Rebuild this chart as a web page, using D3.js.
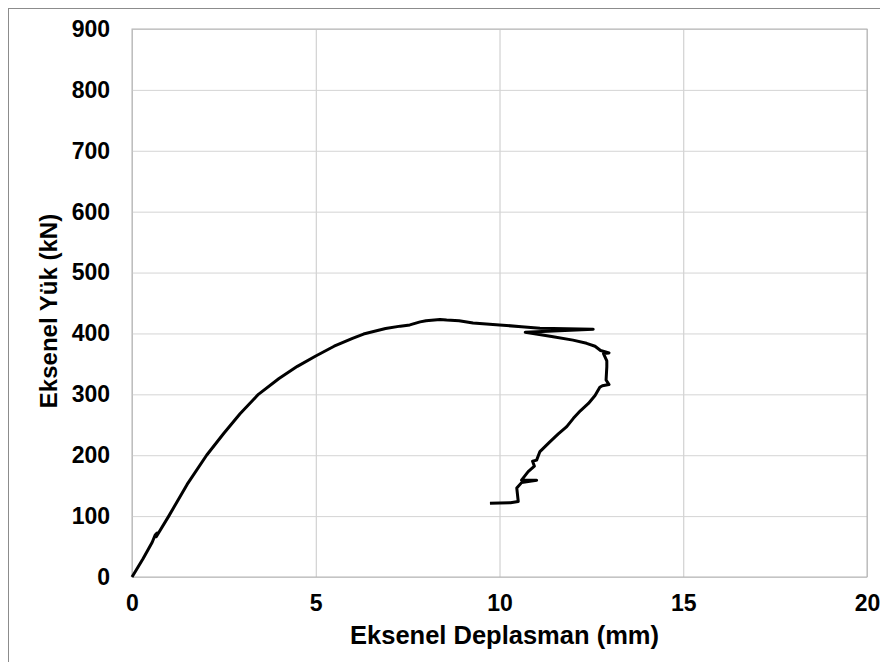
<!DOCTYPE html>
<html lang="tr">
	<head>
		<meta charset="utf-8">
		<title>Eksenel Yük - Deplasman</title>
		<script type="text/javascript" src="https://cdn.jsdelivr.net/npm/d3@7"></script>
		<style type="text/css">
			body { margin: 0; background: #fff; }
			svg { display: block; }
			text { font-family: "Liberation Sans", Arial, sans-serif; font-weight: bold; fill: #000; }
		</style>
	</head>
	<body>
		<script type="text/javascript">

			// displacement (mm) and load (kN)
			var deplasman = [0, 0.05, 0.3, 0.55, 0.63, 0.68, 0.66, 1.0, 1.5, 2.03, 2.5, 2.94, 3.44, 4.0, 4.5,
				5.0, 5.5, 6.0, 6.3, 6.9, 7.3, 7.56, 7.84, 8.0, 8.38, 8.56, 8.9, 9.28, 10.0, 10.6,
				11.1, 12.55, 10.7, 11.0, 11.46, 12.0, 12.37, 12.6, 12.75, 12.98, 12.83, 12.92,
				12.92, 12.9, 12.98, 12.8, 12.73, 12.6, 12.42, 12.2, 12.01, 11.83, 11.6, 11.37,
				11.1, 11.01, 10.9, 10.95, 10.78, 10.6, 11.01, 10.6, 10.47, 10.51, 10.3, 9.74];
			var yuk = [0, 5, 30, 57, 69, 72, 66, 100, 152, 200, 236, 268, 300, 326, 346,
				363, 379, 392, 399, 408, 412, 414, 419, 421, 423, 422, 421, 417, 414, 411,
				408.5, 406.8, 402, 399, 394.6, 389, 383.8, 379, 372, 368, 367, 355,
				345, 323.5, 316, 314, 311.5, 298, 285, 273, 260.6, 247, 235, 222,
				206, 192, 190, 182, 173, 159, 159, 155, 146, 124, 122, 121];

			var xTicks = [0, 5, 10, 15, 20];
			var yTicks = [0, 100, 200, 300, 400, 500, 600, 700, 800, 900];

			var W = 880, H = 662;
			var margin = {top: 29, right: 13, bottom: 85, left: 132};
			var w = W - margin.left - margin.right,
				h = H - margin.top - margin.bottom;

			var svg = d3.select("body").append("svg")
				.attr("width", W)
				.attr("height", H);

			// outer chart frame (right and bottom run off the picture)
			svg.append("rect")
				.attr("x", 8.5).attr("y", 8.5)
				.attr("width", W).attr("height", H)
				.attr("fill", "none")
				.attr("stroke", "#8c8c8c");

			var g = svg.append("g")
				.attr("transform", "translate(" + margin.left + "," + margin.top + ")");

			var xScale = d3.scaleLinear().domain([0, 20]).range([0, w]);
			var yScale = d3.scaleLinear().domain([0, 900]).range([h, 0]);

			// grid
			g.append("g")
				.attr("transform", "translate(0," + h + ")")
				.call(d3.axisBottom(xScale).tickValues(xTicks).tickSize(-h).tickFormat(""))
				.call(function(s) {
					s.select(".domain").remove();
					s.selectAll("line").attr("stroke", "#c8c8c8");
				});
			g.append("g")
				.call(d3.axisLeft(yScale).tickValues(yTicks).tickSize(-w).tickFormat(""))
				.call(function(s) {
					s.select(".domain").remove();
					s.selectAll("line").attr("stroke", "#d4d4d4");
				});

			g.append("rect")
				.attr("width", w).attr("height", h)
				.attr("fill", "none")
				.attr("stroke", "#b4b4b4");

			// tick labels
			g.append("g")
				.attr("transform", "translate(0," + h + ")")
				.call(d3.axisBottom(xScale).tickValues(xTicks).tickSize(0).tickPadding(18))
				.call(function(s) {
					s.select(".domain").remove();
					s.selectAll("text").attr("font-size", "23px").attr("font-family", null);
				});
			g.append("g")
				.call(d3.axisLeft(yScale).tickValues(yTicks).tickSize(0).tickPadding(22))
				.call(function(s) {
					s.select(".domain").remove();
					s.selectAll("text").attr("font-size", "23px").attr("font-family", null);
				});

			// axis titles
			svg.append("text")
				.attr("x", margin.left + w / 2 + 5)
				.attr("y", 644)
				.attr("text-anchor", "middle")
				.attr("font-size", "25.5px")
				.text("Eksenel Deplasman (mm)");
			svg.append("text")
				.attr("transform", "translate(57,311) rotate(-90)")
				.attr("text-anchor", "middle")
				.attr("font-size", "24px")
				.text("Eksenel Yük (kN)");

			var pts = deplasman.map(function(d, i) { return [d, yuk[i]]; });
			var line = d3.line()
				.x(function(d) { return xScale(d[0]); })
				.y(function(d) { return yScale(d[1]); });

			g.append("path")
				.datum(pts)
				.attr("d", line)
				.attr("fill", "none")
				.attr("stroke", "#000")
				.attr("stroke-width", 3)
				.attr("stroke-linejoin", "round");

		</script>
	</body>
</html>
